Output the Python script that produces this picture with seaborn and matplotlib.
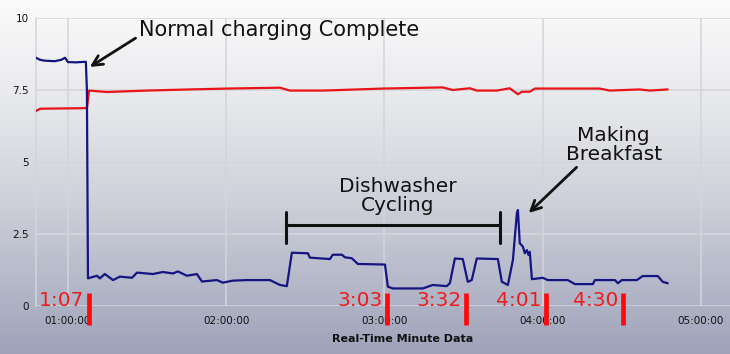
import numpy as np
import pandas as pd
import matplotlib
matplotlib.use("Agg")
import matplotlib.pyplot as plt
import seaborn as sns

# minutes since midnight
blue_t = [47.9, 49.4, 51.0, 55.0, 57.5, 58.9, 60.0, 63.0, 66.8, 67.2, 67.6, 71.0, 72.1, 74.0,
          77.1, 79.7, 84.3, 86.2, 92.2, 96.0, 99.8, 101.7, 105.1, 108.9, 110.8, 116.5, 118.7,
          122.5, 127.8, 136.6, 140.4, 143.0, 144.9, 151.0, 151.7, 159.3, 160.4, 163.9, 165.0,
          167.6, 169.9, 180.2, 181.3, 183.2, 194.6, 198.3, 203.6, 204.8, 206.7, 209.7, 211.6,
          213.1, 215.0, 223.0, 224.5, 226.8, 228.7, 230.2, 230.6, 231.3, 232.5, 233.2, 234.0,
          234.6, 235.1, 235.9, 240.0, 241.9, 249.5, 252.2, 259.0, 259.8, 267.4, 268.5, 270.0,
          275.7, 277.9, 283.6, 285.5, 287.4]
blue_v = [8.62, 8.55, 8.52, 8.50, 8.55, 8.62, 8.47, 8.46, 8.48, 7.5, 0.96, 1.05, 0.96, 1.11,
          0.90, 1.02, 0.98, 1.16, 1.11, 1.18, 1.13, 1.20, 1.05, 1.11, 0.85, 0.90, 0.81,
          0.88, 0.90, 0.90, 0.73, 0.69, 1.85, 1.83, 1.68, 1.63, 1.78, 1.78, 1.69,
          1.66, 1.46, 1.44, 0.67, 0.61, 0.61, 0.73, 0.69, 0.79, 1.65, 1.63, 0.84,
          0.90, 1.65, 1.63, 0.84, 0.73, 1.60, 3.22, 3.33, 2.18, 2.06, 1.83, 1.94,
          1.77, 1.88, 0.93, 0.98, 0.90, 0.90, 0.76, 0.76, 0.90, 0.90, 0.79, 0.90,
          0.90, 1.04, 1.04, 0.84, 0.79]

red_t = [47.9, 49.5, 66.8, 67.3, 68.0, 74.8, 89.9, 106.2, 120.3, 140.4, 144.1, 156.7, 179.4,
         202.1, 205.9, 212.4, 215.0, 222.6, 227.5, 230.6, 232.1, 235.1, 237.0, 261.6, 265.4,
         276.7, 280.6, 287.4]
red_v = [6.77, 6.85, 6.87, 6.92, 7.48, 7.43, 7.48, 7.52, 7.55, 7.58, 7.48, 7.48, 7.55,
         7.59, 7.50, 7.56, 7.48, 7.48, 7.56, 7.35, 7.44, 7.44, 7.55, 7.55, 7.48,
         7.52, 7.48, 7.52]

hour_ticks = [60, 120, 180, 240, 300]
hour_labels = ["01:00:00", "02:00:00", "03:00:00", "04:00:00", "05:00:00"]
y_ticks = [0, 2.5, 5, 7.5, 10]
y_labels = ["0", "2.5", "5", "7.5", "10"]

mark_t = [68.0, 181.0, 211.0, 241.2, 270.4]
mark_labels = ["1:07", "3:03", "3:32", "4:01", "4:30"]

sns.set_style("white")
plt.rcParams['font.family'] = ['DejaVu Sans']

fig = plt.figure(figsize=(7.3, 3.54), dpi=100)

# gradient background over the whole figure
bg = fig.add_axes([0, 0, 1, 1], zorder=-10)
stops = np.array([0, 100, 200, 354]) / 354
cols = np.array([[0.985, 0.985, 0.985], [0.91, 0.913, 0.925], [0.81, 0.82, 0.855], [0.62, 0.64, 0.73]])
yy = np.linspace(0, 1, 354)
grad = np.stack([np.interp(yy, stops, cols[:, i]) for i in range(3)], axis=-1)[:, None, :]
bg.imshow(grad, aspect='auto', extent=[0, 1, 0, 1], origin='upper')
bg.axis('off')

ax = fig.add_axes([36 / 730, 48 / 354, 694 / 730, 288 / 354])
ax.set_facecolor('none')

sns.lineplot(x=red_t, y=red_v, color='#e8141a', linewidth=1.6, sort=False, ax=ax, zorder=3)
sns.lineplot(x=blue_t, y=blue_v, color='#141482', linewidth=1.6, sort=False, ax=ax, zorder=4)

ax.set_xlim(47.9, 311)
ax.set_ylim(0, 10)
ax.set_xticks(hour_ticks)
ax.set_xticklabels(hour_labels)
ax.set_yticks(y_ticks)
ax.set_yticklabels(y_labels)
ax.tick_params(axis='both', length=0, labelsize=7.5, colors='#111111')
ax.tick_params(axis='x', pad=7)
ax.tick_params(axis='y', pad=5)
ax.grid(True, color='#d4d5dc', linewidth=1.1)
for s in ['top', 'right', 'bottom']:
    ax.spines[s].set_visible(False)
ax.spines['left'].set_color('#d4d5dc')
ax.spines['left'].set_linewidth(1.1)

ax.set_xlabel("Real-Time Minute Data", fontsize=8, fontweight='bold', color='#111111')
ax.xaxis.set_label_coords((403 - 36) / 694, -0.098)
ax.set_ylabel("")

# annotations
ax.annotate("Normal charging Complete", xy=(68.3, 8.3), xytext=(140, 9.58),
            fontsize=15, ha='center', va='center', color='#111111',
            arrowprops=dict(arrowstyle='->', color='#111111', lw=2, mutation_scale=18,
                            shrinkA=0, shrinkB=0, relpos=(0, 0.2)))
ax.text(185.1, 3.82, "Dishwasher\nCycling", fontsize=14.5, ha='center', va='center',
        color='#111111', linespacing=1.05)
ax.plot([142.6, 223.7], [2.81, 2.81], color='#111111', lw=2.2, zorder=5)
ax.plot([142.6, 142.6], [2.19, 3.26], color='#111111', lw=2.2, zorder=5)
ax.plot([223.7, 223.7], [2.19, 3.26], color='#111111', lw=2.2, zorder=5)
ax.annotate("Making\nBreakfast", xy=(234.7, 3.23), xytext=(266.9, 5.59),
            fontsize=14.5, ha='center', va='center', color='#111111', linespacing=1.0,
            arrowprops=dict(arrowstyle='->', color='#111111', lw=2, mutation_scale=18,
                            shrinkA=0, shrinkB=0, relpos=(0.15, 0.0)))

# red time markers
for t, lab in zip(mark_t, mark_labels):
    ax.plot([t, t], [0.45, -0.66], color='#ff0a0a', lw=3.4, solid_capstyle='butt',
            clip_on=False, zorder=6)
    ax.text(t - 1.7, 0.19, lab, fontsize=14.5, color='#ee1c1c', ha='right', va='center',
            zorder=6)

fig.savefig("out.png", dpi=100)
